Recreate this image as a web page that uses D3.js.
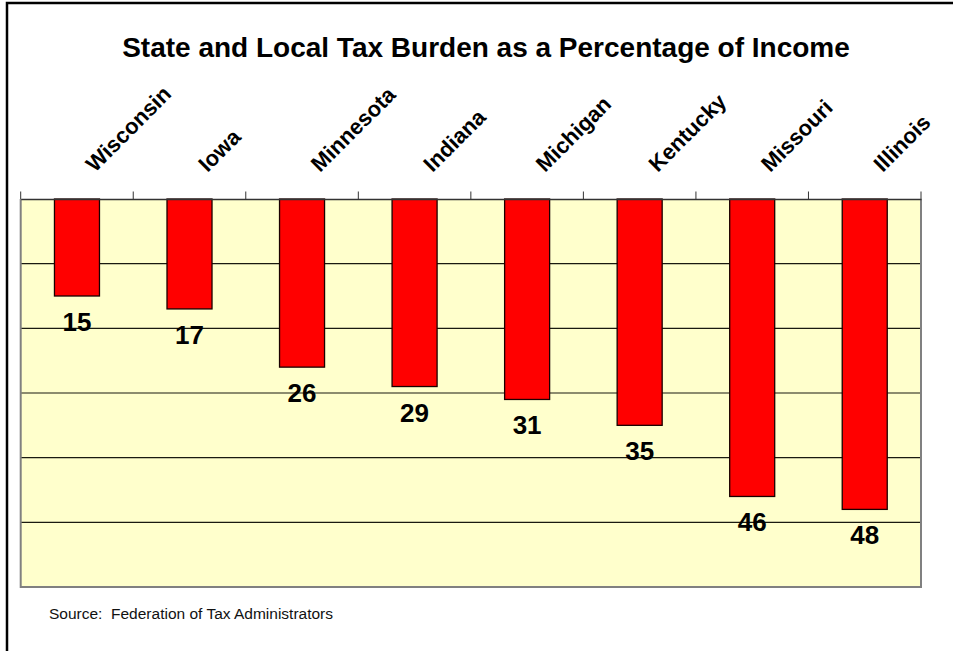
<!DOCTYPE html>
<html>
<head>
<meta charset="utf-8">
<script src="https://cdn.jsdelivr.net/npm/d3@7"></script>
<style>
  html, body { margin: 0; padding: 0; background: #fff; }
  svg { display: block; }
  text { font-family: "Liberation Sans", Arial, Helvetica, sans-serif; }
  .note { white-space: pre; }
</style>
</head>
<body>
<svg id="chart" width="953" height="651"></svg>
<script>
// State and local tax burden, ranked
const states = ["Wisconsin", "Iowa", "Minnesota", "Indiana", "Michigan", "Kentucky", "Missouri", "Illinois"];
const burden = [15, 17, 26, 29, 31, 35, 46, 48];
const gridValues = [0, 10, 20, 30, 40, 50, 60];
const title = "State and Local Tax Burden as a Percentage of Income";
const source = "Source:  Federation of Tax Administrators";

const W = 953, H = 651;
const plot = { left: 20.7, right: 921, top: 199, bottom: 587 };

const svg = d3.select("#chart");

// outer frame (right and bottom edges run off the page)
svg.append("rect")
  .attr("x", 7).attr("y", 3)
  .attr("width", W + 20).attr("height", H + 20)
  .attr("fill", "#fff")
  .attr("stroke", "#000")
  .attr("stroke-width", 2.5);

const x = d3.scaleBand()
  .domain(states)
  .range([plot.left, plot.right])
  .padding(0);

// values grow downward from the top axis
const y = d3.scaleLinear()
  .domain([0, 60])
  .range([plot.top, plot.bottom]);

// plot background
svg.append("rect")
  .attr("x", plot.left).attr("y", plot.top)
  .attr("width", plot.right - plot.left)
  .attr("height", plot.bottom - plot.top)
  .attr("fill", "#FFFFCC");

// horizontal gridlines
svg.append("g")
  .selectAll("line")
  .data(gridValues.filter(v => v > 0 && v < 60))
  .join("line")
  .attr("x1", plot.left).attr("x2", plot.right)
  .attr("y1", d => y(d)).attr("y2", d => y(d))
  .attr("stroke", "#1a1a10")
  .attr("stroke-width", 1.2);

// plot border (left, right, bottom)
svg.append("path")
  .attr("d", `M${plot.left},${plot.top}V${plot.bottom}H${plot.right}V${plot.top}`)
  .attr("fill", "none")
  .attr("stroke", "#808080")
  .attr("stroke-width", 2);

// bars
const barW = x.bandwidth() * 0.4;
svg.append("g")
  .selectAll("rect")
  .data(states.map((s, i) => ({ s, v: burden[i] })))
  .join("rect")
  .attr("x", d => x(d.s) + (x.bandwidth() - barW) / 2)
  .attr("y", y(0))
  .attr("width", barW)
  .attr("height", d => y(d.v) - y(0))
  .attr("fill", "#FF0000")
  .attr("stroke", "#1a0000")
  .attr("stroke-width", 1.3);

// top category axis
const axis = svg.append("g")
  .attr("transform", `translate(0,${plot.top})`)
  .call(d3.axisTop(x).tickSize(0).tickFormat(""));
axis.select(".domain").attr("stroke", "#333").attr("stroke-width", 1.5);

// tick marks at band boundaries
const bounds = states.map(s => x(s)).concat([plot.right]);
svg.append("g")
  .selectAll("line")
  .data(bounds)
  .join("line")
  .attr("x1", d => d).attr("x2", d => d)
  .attr("y1", plot.top - 7.5).attr("y2", plot.top)
  .attr("stroke", "#333")
  .attr("stroke-width", 1);

// slanted category labels
svg.append("g")
  .selectAll("text")
  .data(states)
  .join("text")
  .attr("transform", d => `translate(${x(d) + x.bandwidth() / 2 + 18},${173}) rotate(-45)`)
  .attr("text-anchor", "start")
  .attr("font-size", 22)
  .attr("font-weight", "bold")
  .attr("fill", "#000")
  .text(d => d);

// value labels below each bar
svg.append("g")
  .selectAll("text")
  .data(states.map((s, i) => ({ s, v: burden[i] })))
  .join("text")
  .attr("x", d => x(d.s) + x.bandwidth() / 2)
  .attr("y", d => y(d.v) + 35)
  .attr("text-anchor", "middle")
  .attr("font-size", 26)
  .attr("font-weight", "bold")
  .attr("fill", "#000")
  .text(d => d.v);

// title
svg.append("text")
  .attr("x", 486).attr("y", 57)
  .attr("text-anchor", "middle")
  .attr("font-size", 28)
  .attr("font-weight", "bold")
  .attr("fill", "#000")
  .text(title);

// source note
svg.append("text")
  .attr("class", "note")
  .attr("x", 49).attr("y", 619)
  .attr("font-size", 15.5)
  .attr("fill", "#111")
  .text(source);
</script>
</body>
</html>
